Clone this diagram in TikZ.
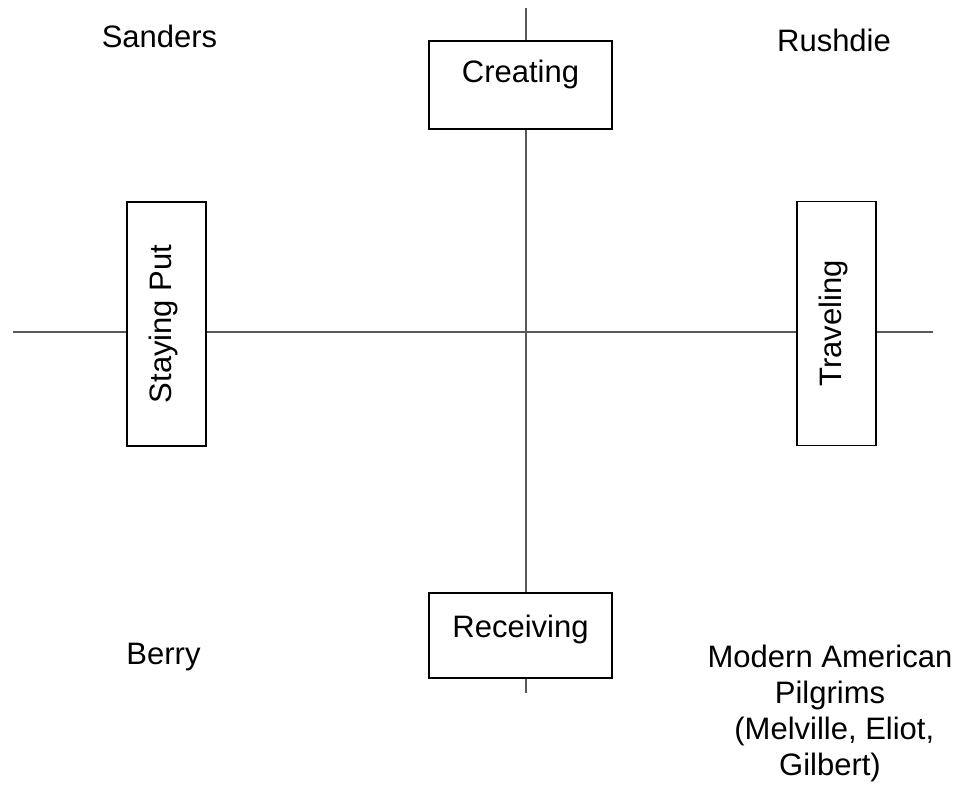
\documentclass[tikz,border=0pt]{standalone}
\usepackage{fontspec}
\setmainfont{Liberation Sans}
\usetikzlibrary{positioning}

\begin{document}
\begin{tikzpicture}[
    x=0.5pt, y=-0.5pt,
    every node/.style={font=\fontsize{15.5}{18}\selectfont},
    axis/.style={draw=black!65, line width=0.6pt},
    hbox/.style={rectangle, draw, fill=white, line width=0.9pt, inner sep=0pt, minimum width=91.5pt},
    vbox/.style={rectangle, draw, fill=white, line width=0.9pt, inner sep=0pt, rotate=90, minimum width=122pt, minimum height=39.5pt, text height=22pt, text depth=17.5pt},
    author/.style={anchor=base, align=center}
]
\useasboundingbox (0,0) rectangle (960,787);

% Axis ends
\coordinate (top) at (526,8);
\coordinate (bottom) at (526,693);
\coordinate (left) at (13,332);
\coordinate (right) at (933,332);

% Axes
\draw[axis] (top) -- (bottom);
\draw[axis] (left) -- (right);

% Poles
\node[hbox, text height=21pt, text depth=23pt] (creating) at (520.5,85) {Creating};
\node[hbox, text height=22pt, text depth=20.5pt] (receiving) at (520.5,635.5) {Receiving};
\node[vbox] (staying) at (166.5,324) {Staying Put};
\node[vbox] (traveling) at (836.5,323.5) {Traveling};

% Quadrants (base of a multi-line node is its last line)
\node[author] (sanders) at (159.5,47) {Sanders};
\node[author] (rushdie) at (834,51) {Rushdie};
\node[author] (berry) at (163.5,664) {Berry};
\node[author] (pilgrims) at (830,775) {Modern American\\Pilgrims\\\ (Melville, Eliot,\\Gilbert)};

\end{tikzpicture}
\end{document}
